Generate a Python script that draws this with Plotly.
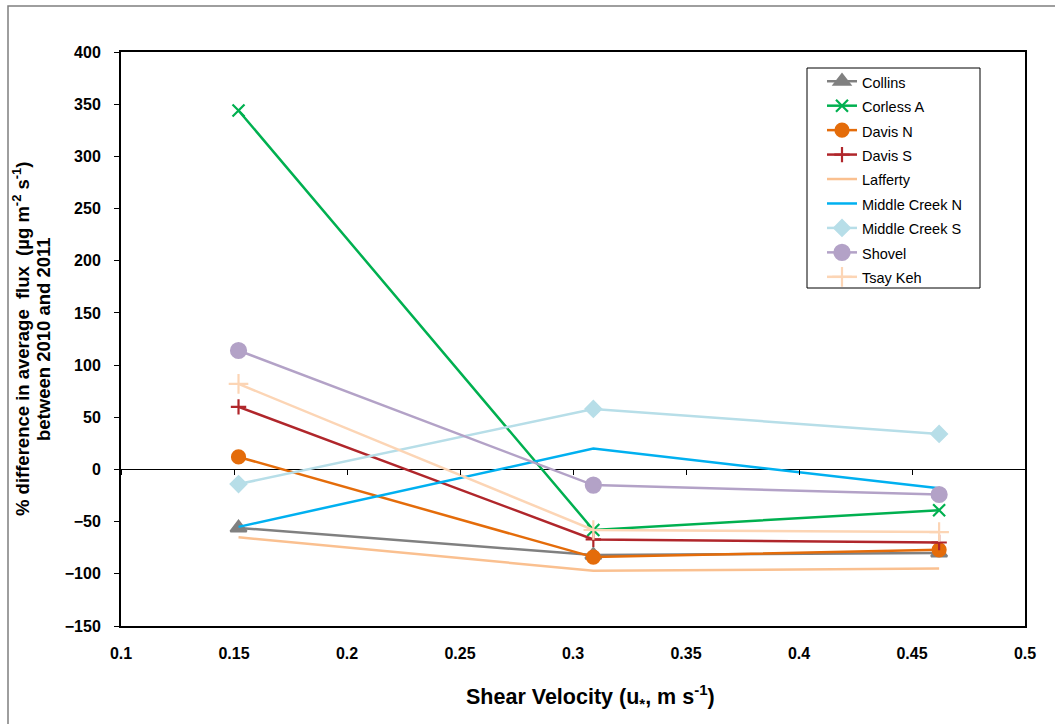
import plotly.graph_objects as go

shear_velocity = [0.152, 0.309, 0.462]

series_names = ["Collins", "Corless A", "Davis N", "Davis S", "Lafferty",
                "Middle Creek N", "Middle Creek S", "Shovel", "Tsay Keh"]
collins = [-56, -82, -80]
corless_a = [344, -58, -39]
davis_n = [12, -84, -77]
davis_s = [60, -67, -70]
lafferty = [-65, -97, -95]
middle_creek_n = [-55, 20, -18]
middle_creek_s = [-14, 58, 34]
shovel = [114, -15, -24]
tsay_keh = [82, -58, -60]

x_ticks = [0.1, 0.15, 0.2, 0.25, 0.3, 0.35, 0.4, 0.45, 0.5]
x_tick_labels = ["0.1", "0.15", "0.2", "0.25", "0.3", "0.35", "0.4", "0.45", "0.5"]
y_ticks = [-150, -100, -50, 0, 50, 100, 150, 200, 250, 300, 350, 400]

values = [collins, corless_a, davis_n, davis_s, lafferty,
          middle_creek_n, middle_creek_s, shovel, tsay_keh]
styles = [
    dict(color="#808080", symbol="triangle-up", size=14, mode="lines+markers"),
    dict(color="#00B050", symbol="x-thin", size=12, mode="lines+markers"),
    dict(color="#E46C0A", symbol="circle", size=13, mode="lines+markers"),
    dict(color="#B0262B", symbol="cross-thin", size=11, mode="lines+markers"),
    dict(color="#FAC090", symbol="circle", size=1, mode="lines"),
    dict(color="#00B0F0", symbol="circle", size=1, mode="lines"),
    dict(color="#B7DEE8", symbol="diamond", size=12, mode="lines+markers"),
    dict(color="#B3A2C7", symbol="circle", size=15, mode="lines+markers"),
    dict(color="#FCD5B5", symbol="cross-thin", size=14, mode="lines+markers"),
]

FONT = "Liberation Sans, Arial, sans-serif"
NB = "\u00a0"

fig = go.Figure()
for name, vals, st in zip(series_names, values, styles):
    fig.add_trace(go.Scatter(
        x=shear_velocity, y=vals, name='<span style="font-size:14.5px">%s</span>' % name,
        mode=st["mode"],
        line=dict(color=st["color"], width=2.5),
        marker=dict(symbol=st["symbol"], size=st["size"], color=st["color"],
                    line=dict(color=st["color"], width=2.2)),
    ))

# helper trace so the tick axis at y=0 is drawn
fig.add_trace(go.Scatter(x=shear_velocity, y=collins, xaxis="x2", mode="markers",
                         marker=dict(opacity=0), showlegend=False, hoverinfo="skip"))

y_min, y_max = -150, 400
L, T, W, H = 121, 52, 904, 574


def px_x(p):
    return (p - L) / W


def px_y(p):
    return (T + H - p) / H


y_title_1 = "% difference in average" + NB + " flux" + NB + " (µg m<sup>-2</sup> s<sup>-1</sup>)"
y_title_2 = "between 2010 and 2011"
x_title = "Shear Velocity (u<sub>*</sub>, m s<sup>-1</sup>)"

title_font = dict(family=FONT, size=18.5, weight="bold", color="black")

fig.update_layout(
    width=1055, height=724,
    margin=dict(l=L, r=1055 - L - W, t=T, b=724 - T - H),
    paper_bgcolor="white", plot_bgcolor="white",
    font=dict(family=FONT, color="black"),
    showlegend=True,
    legend=dict(x=px_x(822), y=px_y(64), xanchor="left", yanchor="top",
                borderwidth=0, bgcolor="rgba(0,0,0,0)",
                font=dict(family=FONT, size=16.5, color="black"),
                tracegroupgap=0),
    xaxis=dict(range=[0.1, 0.5], tickvals=x_ticks, ticktext=x_tick_labels,
               ticks="", showgrid=False, zeroline=False,
               showline=True, linecolor="black", linewidth=2, mirror=True,
               tickfont=dict(family=FONT, size=16, weight="bold"),
               ticklabelstandoff=12),
    xaxis2=dict(range=[0.1, 0.5], tickvals=x_ticks, overlaying="x", anchor="free",
                position=(0 - y_min) / (y_max - y_min), side="bottom",
                ticks="outside", ticklen=5, tickcolor="black", tickwidth=1,
                showticklabels=False, showgrid=False, zeroline=False, showline=False),
    yaxis=dict(range=[y_min, y_max], tickvals=y_ticks,
               ticks="outside", ticklen=5, tickcolor="black", tickwidth=1,
               showgrid=False, zeroline=True, zerolinecolor="black", zerolinewidth=1,
               showline=True, linecolor="black", linewidth=2, mirror=True,
               tickfont=dict(family=FONT, size=16, weight="bold"),
               ticklabelstandoff=10),
    annotations=[
        dict(text=y_title_1, xref="paper", yref="paper", x=px_x(21), y=px_y(339),
             xanchor="center", yanchor="middle", textangle=-90, showarrow=False,
             font=title_font),
        dict(text=y_title_2, xref="paper", yref="paper", x=px_x(43), y=px_y(339),
             xanchor="center", yanchor="middle", textangle=-90, showarrow=False,
             font=title_font),
        dict(text=x_title, xref="paper", yref="paper", x=px_x(590), y=px_y(696),
             xanchor="center", yanchor="middle", showarrow=False,
             font=dict(family=FONT, size=21.5, weight="bold", color="black")),
    ],
    shapes=[
        dict(type="rect", xref="paper", yref="paper",
             x0=px_x(8), x1=px_x(1070), y0=px_y(740), y1=px_y(6),
             line=dict(color="#7f7f7f", width=1.5), layer="below"),
        dict(type="rect", xref="paper", yref="paper",
             x0=px_x(807), x1=px_x(980), y0=px_y(288), y1=px_y(68),
             line=dict(color="black", width=1), fillcolor="white", layer="above"),
    ],
)

fig.write_html("out.html")
